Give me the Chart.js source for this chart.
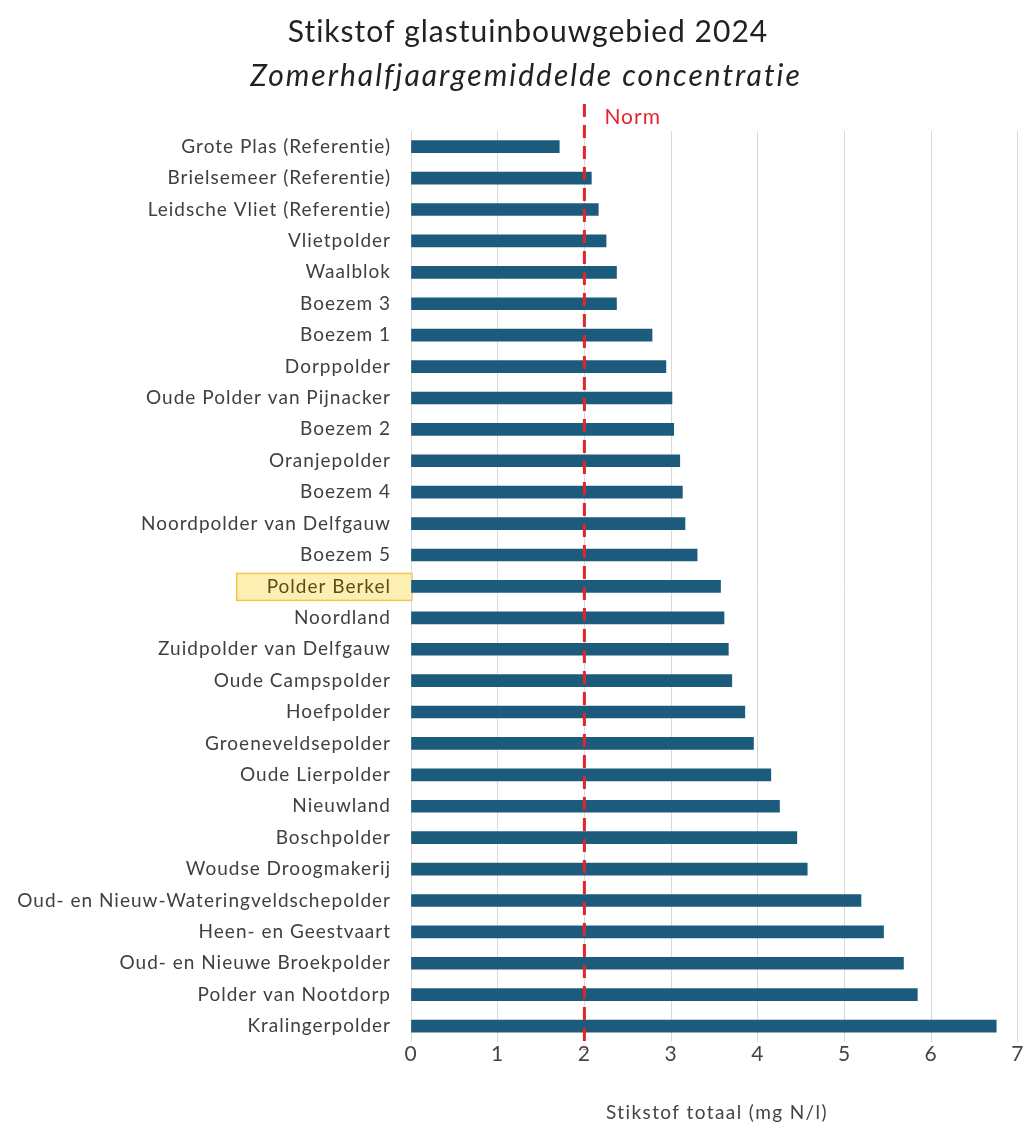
<!DOCTYPE html>
<html>
<head>
<meta charset="utf-8">
<script src="https://cdn.jsdelivr.net/npm/chart.js@4"></script>
<style>
  body { margin: 0; background: #fff; }
  #wrap { width: 1024px; height: 1129px; }
</style>
</head>
<body>
<div id="wrap"><canvas id="stikstofChart" width="1024" height="1129"></canvas></div>
<script>
const gebieden = [
    'Grote Plas (Referentie)', 'Brielsemeer (Referentie)', 'Leidsche Vliet (Referentie)',
    'Vlietpolder', 'Waalblok', 'Boezem 3', 'Boezem 1', 'Dorppolder',
    'Oude Polder van Pijnacker', 'Boezem 2', 'Oranjepolder', 'Boezem 4',
    'Noordpolder van Delfgauw', 'Boezem 5', 'Polder Berkel', 'Noordland',
    'Zuidpolder van Delfgauw', 'Oude Campspolder', 'Hoefpolder', 'Groeneveldsepolder',
    'Oude Lierpolder', 'Nieuwland', 'Boschpolder', 'Woudse Droogmakerij',
    'Oud- en Nieuw-Wateringveldschepolder', 'Heen- en Geestvaart',
    'Oud- en Nieuwe Broekpolder', 'Polder van Nootdorp', 'Kralingerpolder'
];
const stikstof = [
    1.71, 2.08, 2.16, 2.25, 2.37, 2.37, 2.78, 2.94,
    3.01, 3.03, 3.10, 3.13, 3.16, 3.30, 3.57, 3.61,
    3.66, 3.70, 3.85, 3.95, 4.15, 4.25, 4.45, 4.57,
    5.19, 5.45, 5.68, 5.84, 6.75
];
const normWaarde = 2;
const gemarkeerd = 'Polder Berkel';

const titel = 'Stikstof glastuinbouwgebied 2024';
const ondertitel = 'Zomerhalfjaargemiddelde concentratie';
const asTitel = 'Stikstof totaal (mg N/l)';

const fontFam = 'Lato, "Open Sans", sans-serif';

// titles, red dashed norm line + label, yellow box behind the highlighted label
const normPlugin = {
    id: 'normLine',
    beforeDraw(chart) {
        const ctx = chart.ctx;
        const y = chart.scales.y;
        const yc = y.getPixelForValue(gebieden.indexOf(gemarkeerd));
        ctx.save();
        ctx.font = '19px ' + fontFam;
        ctx.letterSpacing = '1px';
        const w = ctx.measureText(gemarkeerd).width;
        const right = chart.chartArea.left + 1;
        const left = chart.chartArea.left - 20 - w - 30;
        ctx.fillStyle = '#fdeeb2';
        ctx.strokeStyle = '#f2c649';
        ctx.lineWidth = 1.5;
        ctx.fillRect(left, yc - 13, right - left, 27);
        ctx.strokeRect(left, yc - 13, right - left, 27);
        ctx.restore();
        // wider tracking for the axis labels
        ctx.letterSpacing = '1px';
    },
    afterDatasetsDraw(chart) {
        const ctx = chart.ctx;
        const x = chart.scales.x.getPixelForValue(normWaarde);
        ctx.save();
        ctx.strokeStyle = '#e3252b';
        ctx.lineWidth = 3;
        ctx.setLineDash([13, 8]);
        ctx.beginPath();
        ctx.moveTo(x, 104);
        ctx.lineTo(x, chart.chartArea.bottom + 8);
        ctx.stroke();
        ctx.setLineDash([]);
        ctx.fillStyle = '#e3252b';
        ctx.font = '21px ' + fontFam;
        ctx.letterSpacing = '1px';
        ctx.textBaseline = 'middle';
        ctx.fillText('Norm', x + 20, 117);
        ctx.restore();
    },
    afterDraw(chart) {
        const ctx = chart.ctx;
        ctx.save();
        ctx.textAlign = 'center';
        ctx.textBaseline = 'middle';
        ctx.fillStyle = '#222';
        ctx.font = '30px ' + fontFam;
        ctx.letterSpacing = '1px';
        ctx.fillText(titel, 528, 32);
        ctx.font = 'italic 30px ' + fontFam;
        ctx.letterSpacing = '2px';
        ctx.fillText(ondertitel, 526, 76);
        ctx.fillStyle = '#444';
        ctx.font = '19px ' + fontFam;
        ctx.letterSpacing = '1.4px';
        ctx.fillText(asTitel, 717, 1113);
        ctx.restore();
        ctx.letterSpacing = '0px';
    }
};

window.onload = function () {
    const ctx = document.getElementById('stikstofChart').getContext('2d');
    new Chart(ctx, {
        type: 'bar',
        data: {
            labels: gebieden,
            datasets: [{
                label: 'Stikstof totaal',
                data: stikstof,
                backgroundColor: '#1d5b7d',
                borderWidth: 0,
                barThickness: 12
            }]
        },
        options: {
            indexAxis: 'y',
            responsive: false,
            animation: false,
            layout: { padding: { left: 0, right: 3, top: 131, bottom: 62 } },
            scales: {
                x: {
                    min: 0,
                    max: 7,
                    ticks: {
                        stepSize: 1,
                        color: '#444',
                        padding: 0,
                        font: { family: fontFam, size: 21 }
                    },
                    grid: { color: '#d9d9d9', drawTicks: false, lineWidth: 1 },
                    border: { display: false }
                },
                y: {
                    afterFit: s => { s.width = 411; },
                    ticks: {
                        color: ctx => gebieden[ctx.index] === gemarkeerd ? '#5c4c17' : '#404040',
                        padding: 20,
                        autoSkip: false,
                        font: { family: fontFam, size: 19 }
                    },
                    grid: { display: false, drawTicks: false },
                    border: { display: false }
                }
            },
            plugins: {
                legend: { display: false },
                tooltip: { enabled: false }
            }
        },
        plugins: [normPlugin]
    });
};
</script>
</body>
</html>
